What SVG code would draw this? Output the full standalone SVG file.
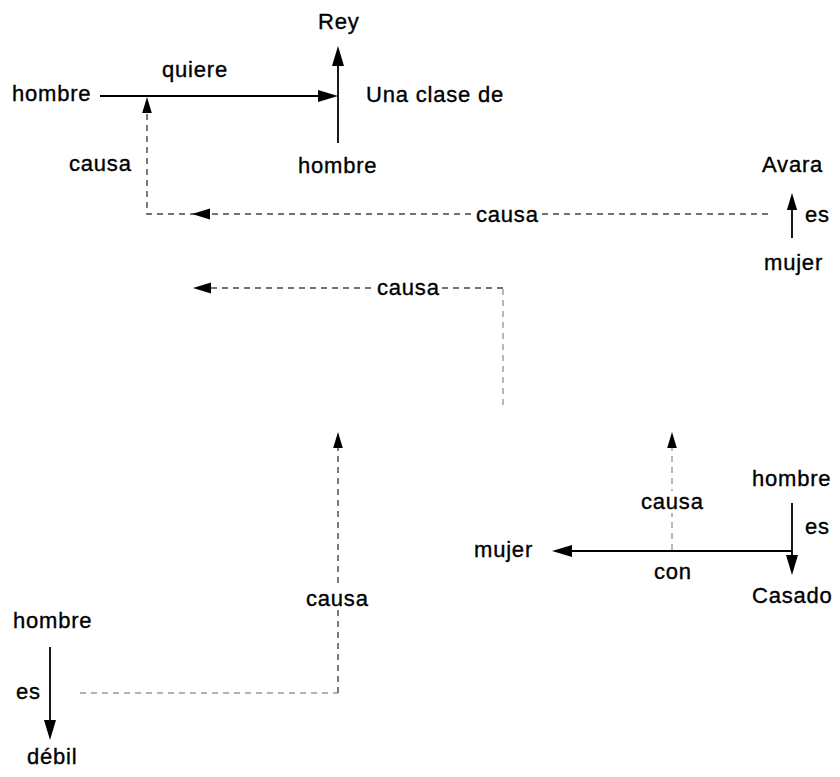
<svg xmlns="http://www.w3.org/2000/svg" width="840" height="777" viewBox="0 0 840 777">
  <style>
    text { font-family: "Liberation Sans", Arial, sans-serif; font-size: 22px; letter-spacing: 0.8px; fill: #000; stroke: #000; stroke-width: 0.35; }
    .solid { stroke: #000; stroke-width: 1.8; fill: none; }
    .dash { stroke: #444; stroke-width: 1.4; fill: none; stroke-dasharray: 6 5; }
    .dash-light { stroke: #999; stroke-width: 1.4; fill: none; stroke-dasharray: 6 5; }
    .head { fill: #000; }
    .bg { fill: #fff; }
  </style>
  <defs>
    <!-- filled arrowhead, tip at origin, pointing along +x -->
    <polygon id="ah" points="0,0 -20,-6 -20,6"/>
  </defs>
  <rect width="840" height="777" fill="#fff"/>

  <g id="connectors">
    <!-- hombre quiere Rey -->
    <path class="solid" d="M100,96 L320,96"/>
    <use href="#ah" class="head" transform="translate(338,96)"/>
    <!-- Una clase de -->
    <path class="solid" d="M338,143 L338,66"/>
    <use href="#ah" class="head" transform="translate(338,46) rotate(-90)"/>
    <!-- mujer es Avara -->
    <path class="solid" d="M792,238 L792,210"/>
    <use href="#ah" class="head" transform="translate(792,193) rotate(-90) scale(0.85)"/>
    <!-- causa: Avara -> quiere -->
    <path class="dash" d="M768,214 L147,214 L147,113"/>
    <use href="#ah" class="head" transform="translate(192,214) rotate(180) scale(0.9)"/>
    <use href="#ah" class="head" transform="translate(147,97) rotate(-90) scale(0.8)"/>
    <!-- causa: second chain -->
    <path class="dash-light" d="M503,405 L503,288"/>
    <path class="dash" d="M503,288 L210,288"/>
    <use href="#ah" class="head" transform="translate(193,288) rotate(180) scale(0.9)"/>
    <!-- causa: débil chain -->
    <path class="dash-light" d="M80,693 L338,693"/>
    <path class="dash" d="M338,693 L338,447"/>
    <use href="#ah" class="head" transform="translate(338,432) rotate(-90) scale(0.8)"/>
    <!-- causa: casado chain -->
    <path class="dash-light" d="M672,550 L672,447"/>
    <use href="#ah" class="head" transform="translate(672,432) rotate(-90) scale(0.8)"/>
    <!-- hombre con mujer -->
    <path class="solid" d="M792,551 L572,551"/>
    <use href="#ah" class="head" transform="translate(552,551) rotate(180)"/>
    <!-- hombre es Casado -->
    <path class="solid" d="M792,503 L792,555"/>
    <use href="#ah" class="head" transform="translate(792,575) rotate(90)"/>
    <!-- hombre es débil -->
    <path class="solid" d="M50,647 L50,720"/>
    <use href="#ah" class="head" transform="translate(50,740) rotate(90)"/>
  </g>

  <g id="rey-group">
    <text x="318" y="29">Rey</text>
    <text x="12" y="101">hombre</text>
    <text x="162" y="77">quiere</text>
    <text x="366" y="102">Una clase de</text>
    <text x="298" y="173">hombre</text>
    <text x="69" y="171">causa</text>
  </g>

  <g id="avara-group">
    <text x="762" y="172">Avara</text>
    <text x="805" y="222">es</text>
    <text x="764" y="270">mujer</text>
  </g>

  <g id="causa-labels">
    <rect class="bg" x="474" y="204" width="64" height="20"/>
    <text x="476" y="222">causa</text>
    <rect class="bg" x="376" y="278" width="66" height="20"/>
    <text x="377" y="295">causa</text>
    <rect class="bg" x="305" y="588" width="67" height="22"/>
    <text x="306" y="606">causa</text>
    <rect class="bg" x="640" y="491" width="66" height="22"/>
    <text x="641" y="509">causa</text>
  </g>

  <g id="casado-group">
    <text x="752" y="486">hombre</text>
    <text x="805" y="534">es</text>
    <text x="752" y="603">Casado</text>
    <text x="474" y="557">mujer</text>
    <text x="654" y="579">con</text>
  </g>

  <g id="debil-group">
    <text x="13" y="628">hombre</text>
    <text x="16" y="699">es</text>
    <text x="27" y="764">débil</text>
  </g>
</svg>
